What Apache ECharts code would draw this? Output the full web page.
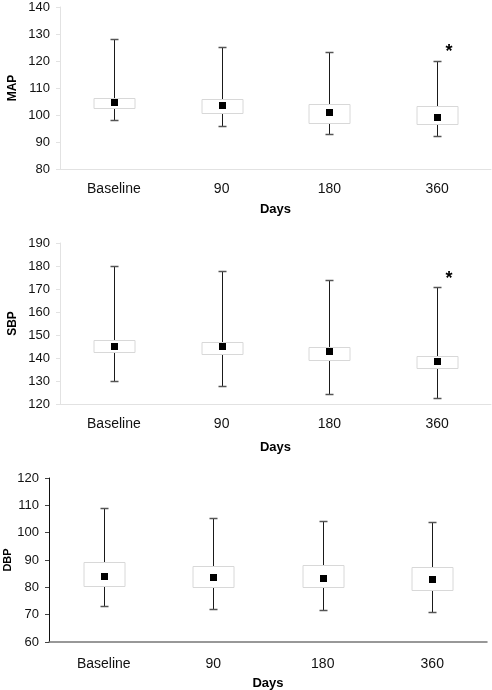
<!DOCTYPE html>
<html>
<head>
<meta charset="utf-8">
<script src="https://cdn.jsdelivr.net/npm/echarts@6/dist/echarts.min.js"></script>
<style>
html,body{margin:0;padding:0;background:#fff;}
#chart{width:492px;height:690px;}
</style>
</head>
<body>
<div id="chart"></div>
<script>
const categories = ['Baseline', '90', '180', '360'];

const mapMin  = [98, 96.1, 93, 92.4];
const mapQ1   = [102.5, 100.7, 97, 96.6];
const mapMean = [104.5, 103.5, 100.8, 99.2];
const mapQ3   = [106.3, 106.1, 104, 103.5];
const mapMax  = [128, 125.2, 123.3, 120.1];

const sbpMin  = [129.8, 127.8, 124.5, 122.5];
const sbpQ1   = [142.6, 141.8, 139.2, 135.5];
const sbpMean = [145.2, 144.8, 142.7, 138.6];
const sbpQ3   = [147.8, 146.9, 145, 140.8];
const sbpMax  = [180, 178, 174, 171];

const dbpMin  = [73, 72, 71.7, 71];
const dbpQ1   = [80.6, 80.3, 80, 79];
const dbpMean = [83.9, 83.5, 83.3, 83];
const dbpQ3   = [89.3, 87.9, 88, 87.6];
const dbpMax  = [109, 105.2, 104.2, 104];

const mapStar = [[3, 124.4]];
const sbpStar = [[3, 175.5]];

function rows(mn, q1, me, q3, mx) {
  return categories.map((c, i) => [i, mn[i], q1[i], me[i], q3[i], mx[i]]);
}

function renderBox(params, api) {
  const x = api.value(0);
  const pMin = api.coord([x, api.value(1)]);
  const pQ1 = api.coord([x, api.value(2)]);
  const pMean = api.coord([x, api.value(3)]);
  const pQ3 = api.coord([x, api.value(4)]);
  const pMax = api.coord([x, api.value(5)]);
  const cx = Math.round(pMin[0]) + 0.5;
  const yMax = Math.round(pMax[1]) + 0.5;
  const yMin = Math.round(pMin[1]) + 0.5;
  const yQ3 = Math.round(pQ3[1]) + 0.5;
  const yQ1 = Math.round(pQ1[1]) + 0.5;
  const bw = 41, cw = 8, ms = 7;
  return {
    type: 'group',
    children: [
      { type: 'line', shape: { x1: cx, y1: yMax, x2: cx, y2: yMin }, style: { stroke: '#1a1a1a', lineWidth: 1 } },
      { type: 'line', shape: { x1: cx - cw / 2, y1: yMax, x2: cx + cw / 2, y2: yMax }, style: { stroke: '#555', lineWidth: 1.5 } },
      { type: 'line', shape: { x1: cx - cw / 2, y1: yMin, x2: cx + cw / 2, y2: yMin }, style: { stroke: '#555', lineWidth: 1.5 } },
      { type: 'rect', shape: { x: cx - bw / 2, y: yQ3, width: bw, height: yQ1 - yQ3 }, style: { fill: '#fff', stroke: '#d8d8d8', lineWidth: 1 } },
      { type: 'rect', shape: { x: Math.round(cx - ms / 2), y: Math.round(pMean[1] - ms / 2), width: ms, height: ms }, style: { fill: '#000' } }
    ]
  };
}

function renderStar(params, api) {
  const p = api.coord([api.value(0), api.value(1)]);
  return {
    type: 'text',
    style: {
      text: '*', x: p[0] + 12, y: p[1] + 3, align: 'center', verticalAlign: 'middle',
      fontSize: 18, fontWeight: 'bold', fontFamily: 'Liberation Sans, Arial', fill: '#000'
    }
  };
}

const font = 'Liberation Sans, Arial, sans-serif';

function xAxis(gi, light, gap, margin) {
  return {
    type: 'category', gridIndex: gi, data: categories,
    name: 'Days', nameLocation: 'middle', nameGap: gap, nameMoveOverlap: false,
    nameTextStyle: { fontFamily: font, fontWeight: 'bold', fontSize: 13, color: '#000' },
    axisLine: { lineStyle: { color: light ? '#e2e2e2' : '#777', width: light ? 1 : 1.5 } },
    axisTick: { show: false },
    axisLabel: { fontFamily: font, fontSize: 14, color: '#111', margin: margin }
  };
}

function yAxis(gi, name, min, max, light, nameGap, nameSize) {
  return {
    type: 'value', gridIndex: gi, min: min, max: max, interval: 10,
    name: name, nameLocation: 'middle', nameGap: nameGap, nameRotate: 90, nameMoveOverlap: false,
    nameTextStyle: { fontFamily: font, fontWeight: 'bold', fontSize: nameSize, color: '#000' },
    axisLine: { show: true, lineStyle: { color: light ? '#e2e2e2' : '#111', width: 1 } },
    axisTick: { show: true, length: 4, lineStyle: { color: light ? '#e2e2e2' : '#444' } },
    splitLine: { show: false },
    axisLabel: { fontFamily: font, fontSize: 13, color: '#111', margin: 10 }
  };
}

const chart = echarts.init(document.getElementById('chart'), null, { renderer: 'canvas' });
chart.setOption({
  animation: false,
  backgroundColor: '#fff',
  grid: [
    { left: 60, top: 7, width: 431, height: 162, containLabel: false, outerBoundsMode: 'none' },
    { left: 60, top: 243, width: 431, height: 161, containLabel: false, outerBoundsMode: 'none' },
    { left: 49, top: 478, width: 438, height: 164, containLabel: false, outerBoundsMode: 'none' }
  ],
  xAxis: [xAxis(0, true, 34, 13), xAxis(1, true, 37, 13), xAxis(2, false, 35, 15)],
  yAxis: [
    yAxis(0, 'MAP', 80, 140, true, 41, 12),
    yAxis(1, 'SBP', 120, 190, true, 41, 12),
    yAxis(2, 'DBP', 60, 120, false, 36, 11)
  ],
  series: [
    { type: 'custom', xAxisIndex: 0, yAxisIndex: 0, renderItem: renderBox, encode: { x: 0, y: [1, 2, 3, 4, 5] }, data: rows(mapMin, mapQ1, mapMean, mapQ3, mapMax) },
    { type: 'custom', xAxisIndex: 1, yAxisIndex: 1, renderItem: renderBox, encode: { x: 0, y: [1, 2, 3, 4, 5] }, data: rows(sbpMin, sbpQ1, sbpMean, sbpQ3, sbpMax) },
    { type: 'custom', xAxisIndex: 2, yAxisIndex: 2, renderItem: renderBox, encode: { x: 0, y: [1, 2, 3, 4, 5] }, data: rows(dbpMin, dbpQ1, dbpMean, dbpQ3, dbpMax) },
    { type: 'custom', xAxisIndex: 0, yAxisIndex: 0, renderItem: renderStar, encode: { x: 0, y: 1 }, data: mapStar },
    { type: 'custom', xAxisIndex: 1, yAxisIndex: 1, renderItem: renderStar, encode: { x: 0, y: 1 }, data: sbpStar }
  ]
});
</script>
</body>
</html>
